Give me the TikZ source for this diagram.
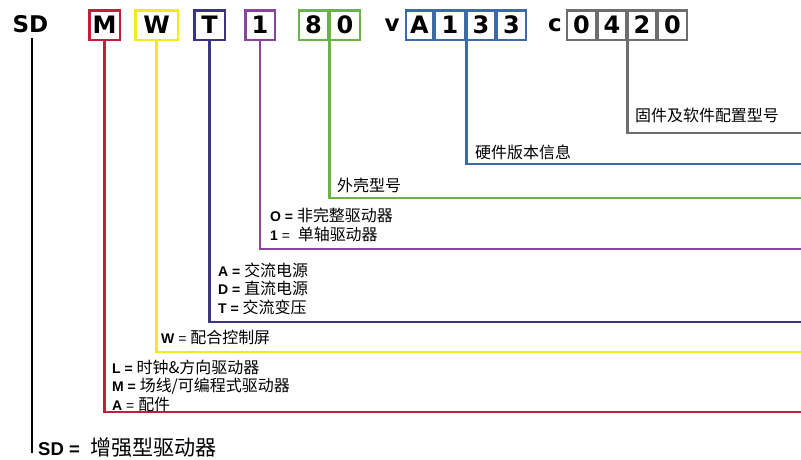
\documentclass[tikz,border=0pt]{standalone}
\usepackage{fontspec}
\setmainfont{DejaVu Sans}
\newfontfamily\lab{Liberation Sans}
\newfontfamily\cjk[Scale=1.14]{Noto Sans CJK SC}
\definecolor{cM}{HTML}{C41E3A}
\definecolor{cW}{HTML}{F2EA1A}
\definecolor{cT}{HTML}{3B3486}
\definecolor{cOne}{HTML}{8446A0}
\definecolor{cE}{HTML}{6AB344}
\definecolor{cV}{HTML}{3A6BA6}
\definecolor{cC}{HTML}{6E6E70}
\begin{document}
\begin{tikzpicture}[x=1pt,y=-1pt,
  cbox/.style={draw=#1, line width=2.5pt, inner sep=0pt, minimum height=29.5pt,
    font=\fontsize{24}{24}\selectfont\bfseries, text=black},
  conn/.style={draw=#1, line width=2.5pt},
  lbl/.style={anchor=west, inner sep=0pt, font=\lab\fontsize{14}{14}\selectfont},
  big/.style={inner sep=0pt, font=\fontsize{23}{23}\selectfont\bfseries}]
\useasboundingbox (0,0) rectangle (801,459);
% top code
\node[big] (sd) at (30.5,24) {SD};
\node[cbox=cM, minimum width=30.5pt] (m) at (104.5,25) {M};
\node[cbox=cW, minimum width=42.5pt] (w) at (156.5,25) {W};
\node[cbox=cT, minimum width=30.5pt] (t) at (209.5,25) {T};
\node[cbox=cOne, minimum width=29.5pt] (one) at (260,25) {1};
\node[cbox=cE, minimum width=29pt] (e8) at (313.5,25) {8};
\node[cbox=cE, minimum width=30pt] (e0) at (345,25) {0};
\node[big] (v) at (392,25) {v};
\node[cbox=cV, minimum width=27pt] (va) at (419.5,25) {A};
\node[cbox=cV, minimum width=30pt] (v1) at (450,25) {1};
\node[cbox=cV, minimum width=28pt] (v3) at (481,25) {3};
\node[cbox=cV, minimum width=29pt] (v3b) at (511.5,25) {3};
\node[big] (c) at (555,25) {c};
\node[cbox=cC, minimum width=29pt] (c0) at (581.5,25) {0};
\node[cbox=cC, minimum width=28pt] (c4) at (612,25) {4};
\node[cbox=cC, minimum width=28pt] (c2) at (642,25) {2};
\node[cbox=cC, minimum width=29pt] (c0b) at (672.5,25) {0};
% ends
\coordinate (endM) at (801,412);
\coordinate (endW) at (801,352);
\coordinate (endT) at (801,322);
\coordinate (endOne) at (801,249);
\coordinate (endE) at (801,198);
\coordinate (endV) at (801,164);
\coordinate (endC) at (801,133);
\coordinate (endSD) at (32,453);
% connectors
\draw[conn=cM] (m.south) |- (endM);
\draw[conn=cW] (w.south) |- (endW);
\draw[conn=cT] (t.south) |- (endT);
\draw[conn=cOne] (one.south) |- (endOne);
\draw[conn=cE] (e8.south east) |- (endE);
\draw[conn=cV] (v1.south east) |- (endV);
\draw[conn=cC] (c4.south east) |- (endC);
\draw[line width=2.5pt] (32,38) -- (endSD);
% labels
\node[lbl] (lc) at (635,115) {\cjk 固件及软件配置型号};
\node[lbl] (lv) at (475,152) {\cjk 硬件版本信息};
\node[lbl] (le) at (337,185) {\cjk 外壳型号};
\node[lbl] (l10) at (270,215) {\textbf{O =} {\cjk 非完整驱动器}};
\node[lbl] (l11) at (270,234) {\textbf{1} = \ {\cjk 单轴驱动器}};
\node[lbl] (lta) at (218,270) {\textbf{A =} {\cjk 交流电源}};
\node[lbl] (ltd) at (218,288) {\textbf{D =} {\cjk 直流电源}};
\node[lbl] (ltt) at (218,307) {\textbf{T =} {\cjk 交流变压}};
\node[lbl] (lw) at (161,337) {\textbf{W} = {\cjk 配合控制屏}};
\node[lbl] (lml) at (112,367) {\textbf{L =} {\cjk 时钟\&方向驱动器}};
\node[lbl] (lmm) at (112,386) {\textbf{M =} {\cjk 场线/可编程式驱动器}};
\node[lbl] (lma) at (112,404) {\textbf{A} = {\cjk 配件}};
\node[lbl, font=\lab\fontsize{18.5}{18.5}\selectfont] (lsd) at (38,448) {\textbf{SD =} \ {\cjk 增强型驱动器}};
\end{tikzpicture}
\end{document}
